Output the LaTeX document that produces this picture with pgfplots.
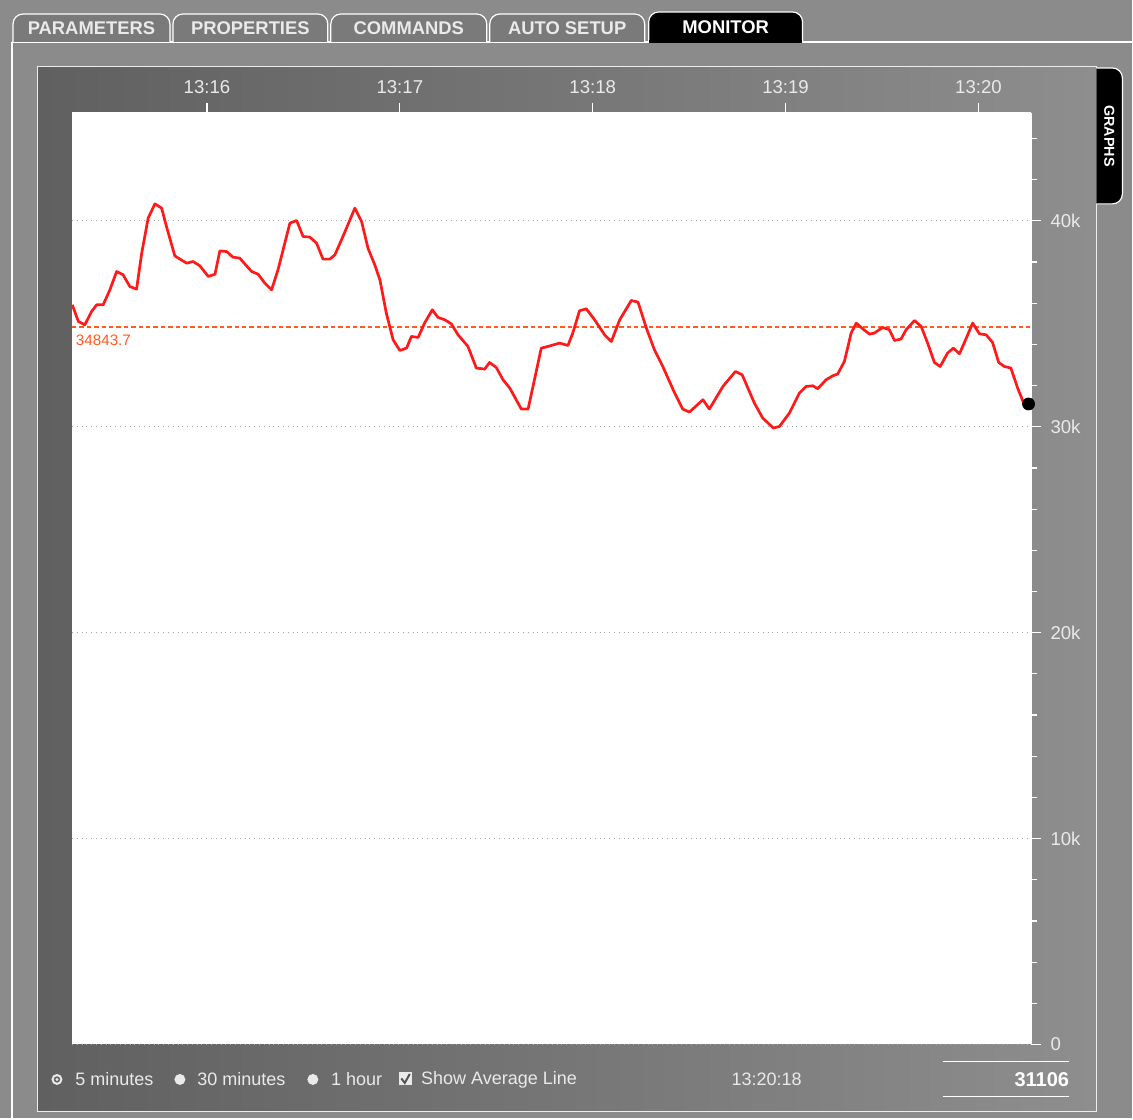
\documentclass[border=0pt]{standalone}
\usepackage{fontspec}
\setmainfont{Liberation Sans}
\usepackage{pgfplots}
\pgfplotsset{compat=1.18}

\definecolor{bggray}{HTML}{8B8B8B}
\definecolor{paneldark}{HTML}{606060}
\definecolor{panellight}{HTML}{8E8E8E}
\definecolor{tabgray}{HTML}{7A7A7A}
\definecolor{uitext}{HTML}{EAEAEA}
\definecolor{seriesred}{HTML}{FF1A1A}
\definecolor{avgorange}{HTML}{FF5A20}

\begin{document}
\begin{tikzpicture}
% ---- background panel, in pixel units of the reference (y downwards)
\begin{scope}[x=0.5pt,y=-0.5pt]
  \fill[bggray] (0,0) rectangle (1133,1119);
  \shade[left color=paneldark, right color=panellight, middle color=bggray!85!black]
    (38,67) rectangle (1097,1112);
  \draw[white, line width=0.6pt] (12,42) -- (1133,42);
  \draw[white, line width=0.6pt] (12,42) -- (12,1119);
  \draw[white!85!gray, line width=0.5pt] (38,67) rectangle (1097,1112);
  % tabs
  \foreach \a/\b/\t in {13/170/PARAMETERS, 173/328/PROPERTIES, 331/487/COMMANDS, 490/645/AUTO SETUP}{
    \draw[white, fill=tabgray, line width=0.6pt, rounded corners=5pt]
      (\a,42) -- (\a,14) -- (\b,14) -- (\b,42);
    \node[text=uitext, font=\bfseries\fontsize{9.2}{10}\selectfont] at ({(\a+\b)/2},28) {\t};
  }
  \draw[white, fill=black, line width=0.6pt, rounded corners=5pt]
    (649,43) -- (649,12) -- (803,12) -- (803,43);
  \fill[black] (649.6,40) rectangle (802.4,43);
  \node[text=white, font=\bfseries\fontsize{9.2}{10}\selectfont] at (726,27) {MONITOR};
  % GRAPHS tab
  \draw[white, fill=black, line width=0.6pt, rounded corners=5pt]
    (1097,68) -- (1123,68) -- (1123,204) -- (1097,204);
  \node[text=white, rotate=-90, font=\bfseries\fontsize{7.2}{8}\selectfont] at (1110,136) {GRAPHS};
  % bottom controls
  \fill[uitext] (57,1080) circle (5.5);
  \fill[bggray!70!black] (57,1080) circle (3.2);
  \fill[uitext] (57,1080) circle (1.6);
  \node[anchor=west, text=uitext, font=\fontsize{9}{10}\selectfont, inner sep=0] at (75,1080) {5 minutes};
  \fill[uitext] (180,1080) circle (5.5);
  \node[anchor=west, text=uitext, font=\fontsize{9}{10}\selectfont, inner sep=0] at (197,1080) {30 minutes};
  \fill[uitext] (313,1080) circle (5.5);
  \node[anchor=west, text=uitext, font=\fontsize{9}{10}\selectfont, inner sep=0] at (331,1080) {1 hour};
  \fill[uitext] (399,1073) rectangle (412,1086);
  \draw[bggray!60!black, line width=1pt] (401.5,1079) -- (405,1083.5) -- (410,1074.5);
  \node[anchor=west, text=uitext, font=\fontsize{9}{10}\selectfont, inner sep=0] at (421,1080) {Show Average Line};
  \node[text=uitext, font=\fontsize{9}{10}\selectfont] at (767,1080) {13:20:18};
  \draw[white, line width=0.6pt] (943,1062) -- (1070,1062);
  \draw[white, line width=0.6pt] (943,1097) -- (1070,1097);
  \node[anchor=east, text=white, font=\bfseries\fontsize{10}{11}\selectfont, inner sep=0] at (1070,1080) {31106};
\end{scope}

\begin{axis}[
  at={(36pt,-56.5pt)}, anchor=north west,
  scale only axis, width=480pt, height=466pt,
  xmin=18, xmax=316.5, ymin=0, ymax=45240,
  axis x line*=top, axis y line*=right,
  axis line style={white, line width=0.6pt},
  axis background/.style={fill=white},
  xtick={60,120,180,240,300},
  xticklabels={13:16,13:17,13:18,13:19,13:20},
  ytick={0,10000,20000,30000,40000},
  yticklabels={0,10k,20k,30k,40k},
  scaled y ticks=false,
  minor ytick={2000,4000,6000,8000,12000,14000,16000,18000,22000,24000,26000,28000,32000,34000,36000,38000,42000,44000},
  tick align=outside,
  major tick length=5pt, minor tick length=3pt,
  every tick/.style={white, line width=0.6pt},
  ymajorgrids,
  major grid style={gray!70, dotted, line width=0.5pt},
  tick label style={text=uitext, font=\fontsize{9.3}{10}\selectfont},
  /pgf/number format/assume math mode=true,
  xticklabel shift=1pt,
  yticklabel shift=1pt,
  clip=true,
]
  % average line
  \addplot[avgorange, line width=0.6pt, dash pattern=on 2.2pt off 1.5pt] coordinates {(18,34843.7) (316.5,34843.7)};
  \node[anchor=north west, text=avgorange, font=\fontsize{7.6}{8}\selectfont, inner sep=1pt] at (axis cs:18.5,34600) {34843.7};

  % monitored value
  \addplot[seriesred, line width=1.35pt, line join=round] table {
t v
18.1 35922
20.0 35112
22.0 34951
24.1 35597
25.7 35922
27.7 35922
29.8 36650
31.9 37540
33.9 37380
36.0 36812
38.1 36683
39.7 38430
41.7 40130
43.8 40825
45.9 40615
47.4 39725
50.0 38300
51.6 38140
53.7 37945
55.7 38025
57.8 37815
60.4 37300
62.5 37410
64.0 38540
66.1 38510
68.1 38235
70.2 38190
72.3 37815
73.9 37540
75.9 37410
78.0 36975
80.1 36650
82.1 37620
85.8 39890
87.9 40015
89.9 39240
92.0 39210
94.1 38915
96.1 38140
98.2 38140
99.8 38350
102.3 39240
106.0 40615
108.1 39970
110.1 38670
112.2 37865
113.8 37135
115.8 35517
117.9 34225
120.0 33705
122.1 33820
123.6 34385
125.7 34337
127.7 35034
130.1 35680
131.9 35307
134.0 35194
136.0 35000
138.1 34466
141.2 33900
143.8 32850
146.4 32800
147.9 33121
150.0 32879
152.1 32282
154.2 31878
157.8 30859
159.9 30859
164.0 33820
166.1 33900
169.7 34063
172.3 33947
173.8 34548
175.9 35631
178.0 35728
180.6 35194
183.7 34466
185.8 34141
188.4 35194
192.0 36131
194.1 36053
196.7 34791
199.2 33738
201.8 32927
205.5 31636
208.0 30859
210.1 30713
214.3 31311
216.3 30859
220.5 31956
224.4 32684
226.5 32524
230.3 31150
232.9 30422
236.2 29936
238.1 30015
241.2 30665
244.3 31636
246.4 31956
248.5 31990
250.0 31845
252.6 32282
254.7 32476
256.2 32558
258.3 33170
260.4 34548
262.0 35034
264.0 34757
266.1 34500
267.6 34548
270.2 34820
272.3 34709
273.9 34190
275.9 34258
277.5 34709
280.1 35160
282.2 34870
284.2 34063
286.3 33121
288.1 32927
290.4 33577
292.2 33820
294.1 33543
296.1 34258
298.2 35034
300.3 34515
302.4 34466
304.4 34092
306.3 33121
308.1 32927
310.1 32850
312.2 31878
314.3 31068
315.6 31106
};
  % latest value marker
  \addplot[only marks, mark=*, mark size=3pt, black] coordinates {(315.6,31106)};
\end{axis}
\end{tikzpicture}
\end{document}
